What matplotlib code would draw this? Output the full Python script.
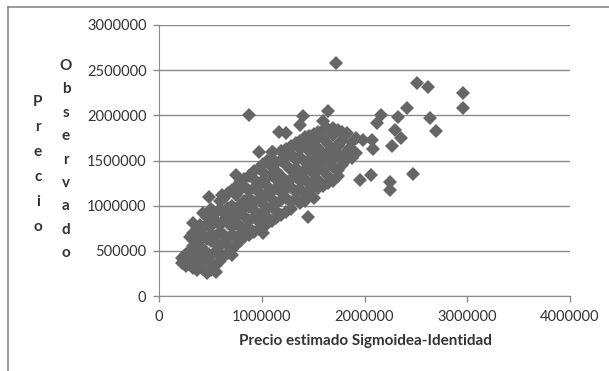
import matplotlib.pyplot as plt
import numpy as np
from matplotlib.lines import Line2D
from matplotlib.ticker import FuncFormatter

plt.rcParams['font.family'] = ['Lato', 'DejaVu Sans']

# valores en millones, leidos del grafico
# nube densa: cada x con su columna de y
nube_x = [0.22, 0.26, 0.30, 0.33, 0.37, 0.40, 0.43, 0.47, 0.51, 0.55, 0.59, 0.63, 0.67,
          0.71, 0.75, 0.79, 0.83, 0.88, 0.92, 0.97, 1.01, 1.05, 1.10, 1.14, 1.19, 1.24,
          1.28, 1.33, 1.37, 1.42, 1.46, 1.51, 1.55, 1.60, 1.64, 1.69, 1.74, 1.78, 1.83,
          1.88, 1.92]
nube_y = [
    [0.42, 0.37],
    [0.47, 0.33],
    [0.65, 0.50, 0.43],
    [0.81, 0.70, 0.55, 0.39, 0.31],
    [0.74, 0.62, 0.51, 0.44, 0.29],
    [0.79, 0.62, 0.54, 0.40, 0.33],
    [0.92, 0.75, 0.66, 0.52, 0.44, 0.30],
    [0.88, 0.80, 0.63, 0.48, 0.41, 0.25],
    [0.96, 0.78, 0.69, 0.61, 0.44, 0.36, 0.29],
    [0.92, 0.83, 0.66, 0.58, 0.50, 0.34, 0.27],
    [1.05, 0.96, 0.79, 0.71, 0.55, 0.47, 0.39],
    [1.09, 0.92, 0.84, 0.68, 0.60, 0.44],
    [1.14, 0.97, 0.89, 0.81, 0.64, 0.56, 0.48],
    [1.17, 1.00, 0.92, 0.76, 0.68, 0.52, 0.45],
    [1.34, 1.21, 1.12, 0.96, 0.88, 0.80, 0.64, 0.56],
    [1.26, 1.17, 1.01, 0.93, 0.77, 0.69, 0.61],
    [1.30, 1.22, 1.05, 0.97, 0.89, 0.73, 0.65],
    [1.33, 1.16, 1.08, 0.99, 0.83, 0.75, 0.67],
    [1.38, 1.29, 1.20, 1.04, 0.95, 0.87, 0.71],
    [1.59, 1.42, 1.24, 1.15, 1.07, 0.90, 0.82, 0.74],
    [1.46, 1.37, 1.28, 1.10, 1.02, 0.93, 0.77, 0.70],
    [1.49, 1.31, 1.22, 1.13, 0.96, 0.88, 0.80],
    [1.59, 1.52, 1.43, 1.34, 1.16, 1.07, 0.99, 0.83],
    [1.47, 1.38, 1.29, 1.20, 1.02, 0.94, 0.86],
    [1.60, 1.51, 1.33, 1.24, 1.15, 1.06, 0.90],
    [1.80, 1.63, 1.54, 1.45, 1.27, 1.18, 1.09, 0.93],
    [1.66, 1.57, 1.39, 1.30, 1.21, 1.04, 0.96],
    [1.69, 1.51, 1.42, 1.33, 1.15, 1.07],
    [1.89, 1.72, 1.63, 1.54, 1.36, 1.27, 1.18, 1.03],
    [1.76, 1.66, 1.48, 1.39, 1.30, 1.13, 1.05],
    [1.77, 1.60, 1.51, 1.42, 1.24, 1.16],
    [1.79, 1.71, 1.62, 1.44, 1.35, 1.26, 1.09],
    [1.81, 1.64, 1.55, 1.46, 1.28, 1.20],
    [1.94, 1.84, 1.75, 1.57, 1.48, 1.39, 1.22],
    [2.05, 1.85, 1.68, 1.59, 1.50, 1.33, 1.25],
    [1.86, 1.78, 1.60, 1.51, 1.43, 1.27],
    [1.84, 1.66, 1.57, 1.40, 1.33],
    [1.82, 1.72, 1.54, 1.45],
    [1.80, 1.61, 1.52],
    [1.71, 1.62, 1.53],
    [1.75, 1.58],
]

# puntos sueltos
sueltos_x = [0.49, 0.61, 0.88, 1.11, 1.17, 1.40, 1.45, 1.72, 1.96, 1.99, 2.06, 2.07,
             2.08, 2.12, 2.16, 2.25, 2.25, 2.27, 2.30, 2.33, 2.36, 2.41, 2.47, 2.51,
             2.62, 2.64, 2.70, 2.96, 2.96, 1.76, 1.86]
sueltos_y = [1.10, 1.12, 2.00, 1.59, 1.82, 1.99, 0.87, 2.58, 1.28, 1.73, 1.34, 1.73,
             1.63, 1.92, 2.00, 1.26, 1.17, 1.66, 1.84, 1.98, 1.75, 2.08, 1.35, 2.36,
             2.31, 1.97, 1.83, 2.25, 2.08, 1.70, 1.64]

y_ticks = [0, 500000, 1000000, 1500000, 2000000, 2500000, 3000000]
x_ticks = [0, 1000000, 2000000, 3000000, 4000000]

est = []
obs = []
for xv, col in zip(nube_x, nube_y):
    for yv in col:
        est.append(xv)
        obs.append(yv)
est = (np.array(est + sueltos_x)) * 1e6
obs = (np.array(obs + sueltos_y)) * 1e6

fig = plt.figure(figsize=(6.09, 3.71), dpi=100)
ax = fig.add_axes([159/609, 1 - 296/371, 411/609, 271/371])

gris = '#8a8a8a'
ax.grid(axis='y', color=gris, lw=1)
ax.set_axisbelow(True)
ax.plot(est, obs, 'D', color='#666666', ms=7, mew=0, ls='none')

ax.set_xlim(0, 4000000)
ax.set_ylim(0, 3000000)
ax.set_xticks(x_ticks)
ax.set_yticks(y_ticks)
fmt = FuncFormatter(lambda v, p: f'{v:.0f}')
ax.xaxis.set_major_formatter(fmt)
ax.yaxis.set_major_formatter(fmt)
ax.tick_params(direction='out', length=4, width=1, color=gris, labelcolor='#333333',
               labelsize=10.5)
ax.tick_params(axis='x', pad=6)
ax.tick_params(axis='y', pad=5)
for s in ['top', 'right']:
    ax.spines[s].set_visible(False)
for s in ['left', 'bottom']:
    ax.spines[s].set_color(gris)

fig.text(365/609, 1 - 341/371, 'Precio estimado Sigmoidea-Identidad', ha='center',
         va='center', fontsize=11, fontweight='bold', color='#333333')

# etiqueta vertical letra por letra
for i, ch in enumerate('Precio'):
    fig.text(38/609, 1 - (102 + i*25)/371, ch, ha='center', va='center',
             fontsize=11, fontweight='bold', color='#333333')
for i, ch in enumerate('Observado'):
    fig.text(66/609, 1 - (66 + i*23.4)/371, ch, ha='center', va='center',
             fontsize=11, fontweight='bold', color='#333333')

# marco
fig.add_artist(Line2D([8/609, 8/609], [0, 1 - 7/371], color=gris, lw=1.2))
fig.add_artist(Line2D([8/609, 1], [1 - 7/371, 1 - 7/371], color=gris, lw=1.2))

fig.savefig('out.png', dpi=100)
